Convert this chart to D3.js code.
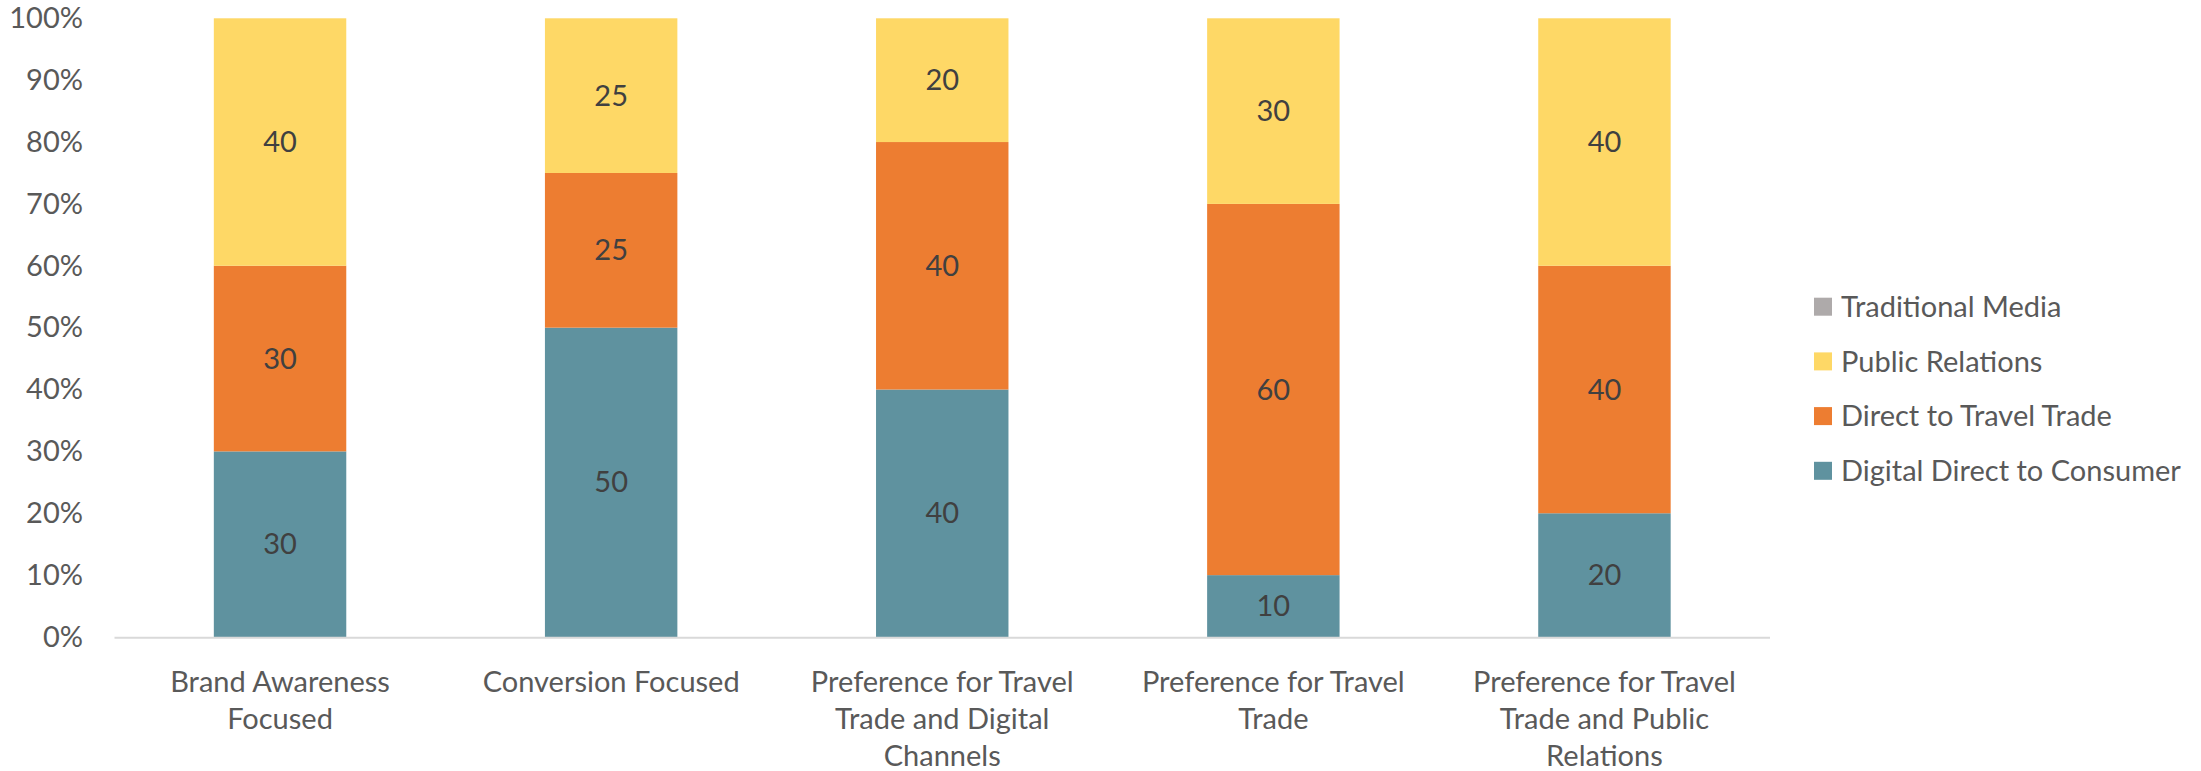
<!DOCTYPE html>
<html>
<head>
<meta charset="utf-8">
<script src="https://cdn.jsdelivr.net/npm/d3@7"></script>
<style>
  html, body { margin: 0; padding: 0; background: #ffffff; }
  svg text { font-family: Lato, "Open Sans", sans-serif; }
</style>
</head>
<body>
<svg id="chart" width="2201" height="771"></svg>
<script>
// Marketing mix by strategy (share of budget, %)
const categories = [
  "Brand Awareness Focused",
  "Conversion Focused",
  "Preference for Travel Trade and Digital Channels",
  "Preference for Travel Trade",
  "Preference for Travel Trade and Public Relations"
];
const categoryLines = [
  ["Brand Awareness", "Focused"],
  ["Conversion Focused"],
  ["Preference for Travel", "Trade and Digital", "Channels"],
  ["Preference for Travel", "Trade"],
  ["Preference for Travel", "Trade and Public", "Relations"]
];
// stacked bottom to top
const seriesNames = ["Digital Direct to Consumer", "Direct to Travel Trade", "Public Relations", "Traditional Media"];
const digitalDirect = [30, 50, 40, 10, 20];
const directTrade   = [30, 25, 40, 60, 40];
const publicRel     = [40, 25, 20, 30, 40];
const traditional   = [0, 0, 0, 0, 0];
const seriesColors = ["#5f929f", "#ed7d31", "#fed866", "#aeaaaa"];
const yTicks = [0, 10, 20, 30, 40, 50, 60, 70, 80, 90, 100];

const seriesValues = [digitalDirect, directTrade, publicRel, traditional];
const rows = categories.map((c, i) => {
  const r = { category: c };
  seriesNames.forEach((s, k) => { r[s] = seriesValues[k][i]; });
  return r;
});

const FS = 29;
const svg = d3.select("#chart");
const margin = { left: 114.5, right: 431, top: 18.3, bottom: 134 };
const W = 2201, H = 771;

const x = d3.scaleBand()
  .domain(categories)
  .range([margin.left, W - margin.right])
  .paddingInner(0.6)
  .paddingOuter(0.3);

const y = d3.scaleLinear()
  .domain([0, 100])
  .range([H - margin.bottom, margin.top]);

const stack = d3.stack().keys(seriesNames);
const layers = stack(rows);

// bars
const g = svg.append("g");
layers.forEach((layer, k) => {
  g.append("g")
    .attr("fill", seriesColors[k])
    .selectAll("rect")
    .data(layer)
    .join("rect")
    .attr("x", d => x(d.data.category))
    .attr("width", x.bandwidth())
    .attr("y", d => y(d[1]))
    .attr("height", d => y(d[0]) - y(d[1]));
});

// value labels inside segments
layers.forEach((layer, k) => {
  g.append("g")
    .selectAll("text")
    .data(layer.filter(d => d[1] - d[0] > 0))
    .join("text")
    .attr("x", d => x(d.data.category) + x.bandwidth() / 2)
    .attr("y", d => y((d[0] + d[1]) / 2))
    .attr("dy", "0.35em")
    .attr("text-anchor", "middle")
    .attr("font-size", FS)
    .attr("fill", "#404040")
    .text(d => d[1] - d[0]);
});

// y axis labels
const yAxis = d3.axisLeft(y)
  .tickValues(yTicks)
  .tickFormat(d => d + "%")
  .tickSize(0)
  .tickPadding(0);
const yg = svg.append("g")
  .attr("transform", `translate(${83},0)`)
  .call(yAxis);
yg.select(".domain").remove();
yg.selectAll("text")
  .attr("font-size", FS)
  .attr("fill", "#595959")
  .attr("font-family", "Lato, 'Open Sans', sans-serif");

// x axis line
const xAxis = d3.axisBottom(x).tickSize(0).tickFormat("");
const xg = svg.append("g")
  .attr("transform", `translate(0,${y(0) + 0.7})`)
  .call(xAxis);
xg.select(".domain")
  .attr("stroke", "#d9d9d9")
  .attr("stroke-width", 2)
  .attr("d", `M${margin.left},0H${W - margin.right}`);

// category labels
const catG = svg.append("g");
categories.forEach((c, i) => {
  const t = catG.append("text")
    .attr("x", x(c) + x.bandwidth() / 2)
    .attr("y", 682)
    .attr("text-anchor", "middle")
    .attr("font-size", FS)
    .attr("fill", "#595959");
  categoryLines[i].forEach((line, j) => {
    t.append("tspan")
      .attr("x", x(c) + x.bandwidth() / 2)
      .attr("y", 682 + j * 37)
      .attr("dy", "0.35em")
      .text(line);
  });
});

// legend (top-down: last series first)
const legendOrder = seriesNames.map((s, k) => k).reverse();
const legend = svg.append("g");
legendOrder.forEach((k, i) => {
  const cy = 306.7 + i * 54.7;
  legend.append("rect")
    .attr("x", 1814)
    .attr("y", cy - 9)
    .attr("width", 18)
    .attr("height", 18)
    .attr("fill", seriesColors[k]);
  legend.append("text")
    .attr("x", 1841)
    .attr("y", cy)
    .attr("dy", "0.35em")
    .attr("font-size", FS)
    .attr("fill", "#595959")
    .text(seriesNames[k]);
});
</script>
</body>
</html>
